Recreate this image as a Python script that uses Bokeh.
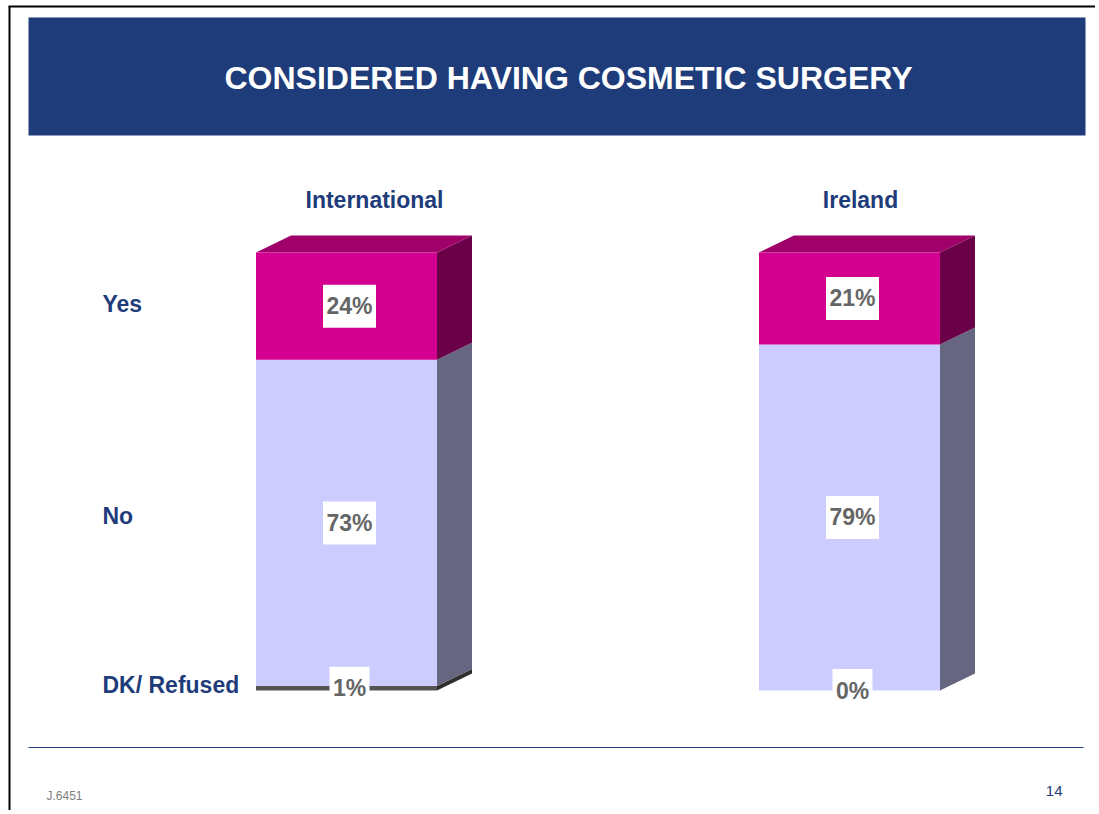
from bokeh.plotting import figure
from bokeh.models import Range1d
from bokeh.core.properties import value
from bokeh.embed import file_html
from bokeh.resources import INLINE

# ---------------- data ----------------
title = "CONSIDERED HAVING COSMETIC SURGERY"
groups = ["International", "Ireland"]
categories = ["DK/ Refused", "No", "Yes"]          # stacked bottom -> top
international = [1, 73, 24]
ireland = [0, 79, 21]
footer_code = "J.6451"
page_number = "14"

# ---------------- layout / style ----------------
W, H = 1095, 810
PX0, PY0 = 0, 0                       # page offset of the figure
NAVY = "#1F3C7A"
FONT = value("Liberation Sans")
front_col = ["#555555", "#CCCCFF", "#D4008F"]
side_col = ["#2E2E2E", "#666680", "#6A0047"]
top_col = ["#3A3A3A", "#9999CC", "#A0006A"]
title_dx_px = [28, 11]                 # group-title horizontal offsets (px)
cat_dy_px = [-3, -7, -2]               # category-label vertical offsets (px)

# bar axis: group 0 centred at page x 346, spacing 503 px; 0% at page y 690, 100% at 252
X_C0, X_STEP = 346, 503
Y_ZERO, PX_PER_PCT = 690, 4.38
BAR_W = 181 / X_STEP
DX = 35 / X_STEP
DY = 17 / PX_PER_PCT

p = figure(width=W, height=H, output_backend="svg", toolbar_location=None,
           x_range=Range1d(PX0, PX0 + W), y_range=Range1d(PY0 + H, PY0),
           min_border=0, outline_line_color=None)
p.axis.visible = False
p.grid.visible = False
p.background_fill_color = "white"
p.border_fill_color = "white"

bx0 = -(X_C0 - PX0) / X_STEP
p.extra_x_ranges = {"bx": Range1d(bx0, bx0 + W / X_STEP)}
p.extra_y_ranges = {"pct": Range1d((Y_ZERO - (PY0 + H)) / PX_PER_PCT, (Y_ZERO - PY0) / PX_PER_PCT)}

# ---------------- slide decoration ----------------
p.line([9, 9], [6, PY0 + H], line_color="black", line_width=2)
p.line([8, PX0 + W], [6, 6], line_color="black", line_width=2)
p.quad(left=28, right=1085, top=17, bottom=135, fill_color=NAVY, line_color=None)
p.text(x=[568], y=[77], text=[title], text_color="white", text_font=FONT,
       text_font_style="bold", text_font_size="32px", text_align="center",
       text_baseline="middle")
p.line([28, 1083], [747, 747], line_color=NAVY, line_width=1)
p.text(x=[46], y=[795], text=[footer_code], text_color="#808080", text_font=FONT,
       text_font_size="12px", text_align="left", text_baseline="middle")
p.text(x=[1062], y=[790], text=[page_number], text_color=NAVY, text_font=FONT,
       text_font_size="15px", text_align="right", text_baseline="middle")

# ---------------- 3D stacked bars ----------------
series = [international, ireland]
label_x, label_y, label_t, label_w = [], [], [], []
mids_first = []
for gi, vals in enumerate(series):
    total = float(sum(vals))
    bottom = 0.0
    left, right = gi - BAR_W / 2, gi + BAR_W / 2
    segs = []
    for ci, v in enumerate(vals):
        h = v / total * 100.0
        segs.append((ci, bottom, bottom + h, v))
        bottom += h
    nonzero = [s for s in segs if s[2] > s[1]]
    top_ci = nonzero[-1][0]
    for ci, b, t, v in nonzero:
        # side face
        p.patch([right, right + DX, right + DX, right], [b, b + DY, t + DY, t],
                fill_color=side_col[ci], line_color=None,
                x_range_name="bx", y_range_name="pct")
        if ci == top_ci:
            p.patch([left, left + DX, right + DX, right], [t, t + DY, t + DY, t],
                    fill_color=top_col[ci], line_color=None,
                    x_range_name="bx", y_range_name="pct")
        p.quad(left=left, right=right, bottom=b, top=t, fill_color=front_col[ci],
               line_color=None, x_range_name="bx", y_range_name="pct")
    for ci, b, t, v in segs:
        txt = f"{v}%"
        label_x.append(gi + 3 / X_STEP)
        label_y.append((b + t) / 2)
        label_t.append(txt)
        label_w.append(14 + 13 * len(txt))
        if gi == 0:
            mids_first.append((b + t) / 2 - cat_dy_px[ci] / PX_PER_PCT)

p.rect(x=label_x, y=label_y, width=label_w, height=43, width_units="screen",
       height_units="screen", fill_color="white", line_color=None,
       x_range_name="bx", y_range_name="pct")
p.text(x=label_x, y=label_y, text=label_t, text_color="#666666", text_font=FONT,
       text_font_style="bold", text_font_size="23px", text_align="center",
       text_baseline="middle", x_range_name="bx", y_range_name="pct")

# category labels (left)
p.text(x=[102] * len(categories), y=mids_first, text=categories, text_color=NAVY,
       text_font=FONT, text_font_style="bold", text_font_size="23px",
       text_align="left", text_baseline="middle", y_range_name="pct")

# group titles
p.text(x=[i + title_dx_px[i] / X_STEP for i in range(len(groups))], y=[199] * len(groups),
       text=groups, text_color=NAVY, text_font=FONT, text_font_style="bold",
       text_font_size="23px", text_align="center", text_baseline="middle",
       x_range_name="bx")

open("out.html", "w").write(file_html(p, INLINE))
